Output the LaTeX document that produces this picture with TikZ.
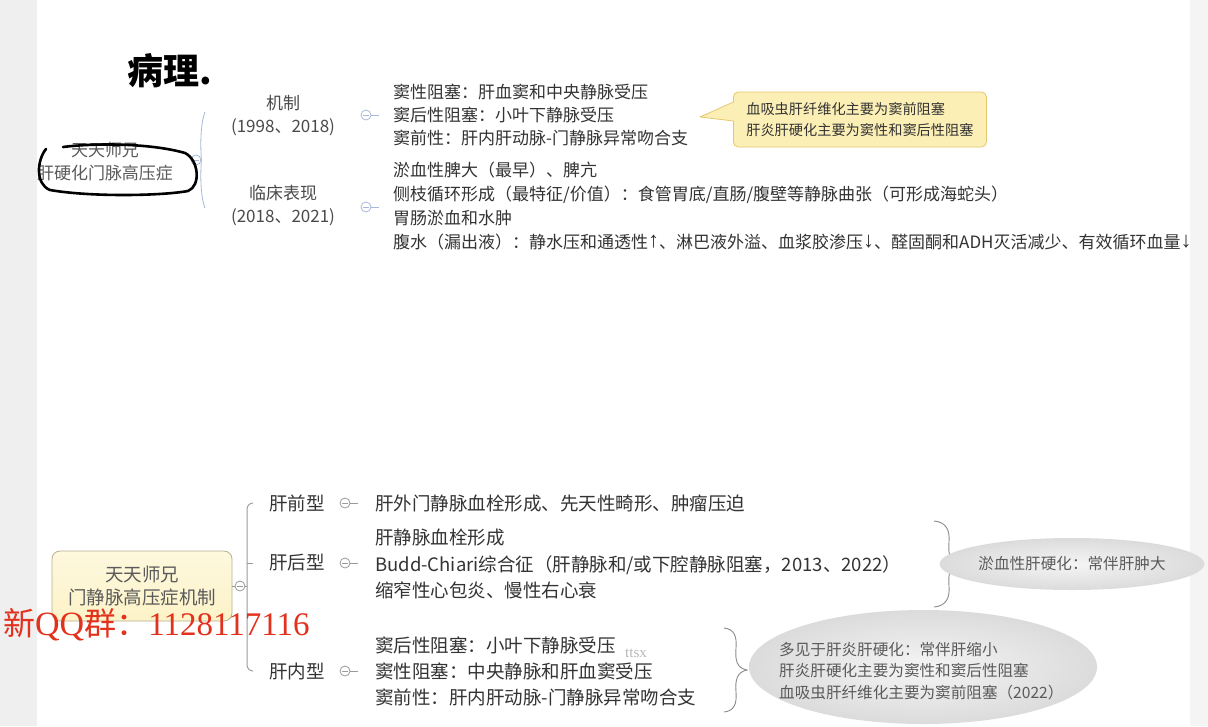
\documentclass[tikz,border=0pt]{standalone}
\usepackage{fontspec}
\newfontfamily\cjk{Noto Sans CJK SC}
\newfontfamily\wmserif{Liberation Serif}
\newfontfamily\arrowsans{Liberation Sans}
\usetikzlibrary{calc,shapes.geometric}
\definecolor{stripgray}{HTML}{EFEFEF}
\definecolor{textdark}{HTML}{333333}
\definecolor{textmid}{HTML}{4A4A4A}
\definecolor{textsoft}{HTML}{5A5A5A}
\definecolor{topblue}{HTML}{A7B8DA}
\definecolor{linegray}{HTML}{9A9A9A}
\definecolor{notefill}{HTML}{FCEFB6}
\definecolor{noteedge}{HTML}{E4C86F}
\definecolor{rootedge}{HTML}{B8AE8E}
\definecolor{wmred}{HTML}{E2311D}
\newcommand\upar{\raisebox{1.2pt}{\arrowsans\fontsize{22}{22}\selectfont ↑}}
\newcommand\downar{\raisebox{1.2pt}{\arrowsans\fontsize{22}{22}\selectfont ↓}}

\begin{document}
\begin{tikzpicture}[x=1pt, y=-1pt, font=\cjk,
  every node/.style={inner sep=0pt},
  mk/.style={circle, draw=#1, fill=white, minimum size=10pt, line width=0.8pt,
    path picture={\draw[#1, line width=0.8pt]
      ([xshift=2.4pt]path picture bounding box.west) --
      ([xshift=-2.4pt]path picture bounding box.east);}},
  toptxt/.style={anchor=west, align=left, text=textdark,
    font=\cjk\fontsize{17}{23.5}\selectfont},
  bottxt/.style={anchor=west, align=left, text=textdark,
    font=\cjk\fontsize{18.5}{26.3}\selectfont},
  brc/.style={draw=linegray!90!black, line width=0.9pt},
  bubble/.style={ellipse, shading=radial, inner color=black!4,
    outer color=black!14},
  bubtxt/.style={align=left, text=textsoft, font=\cjk\fontsize{15.6}{21.5}\selectfont}]
\useasboundingbox (0,0) rectangle (1208,726);
% ---- page background ------------------------------------------------
\fill[white] (0,0) rectangle (1208,726);
\fill[stripgray] (0,0) rectangle (37,726);
\fill[stripgray!70!white] (1190,0) rectangle (1208,726);

% ================= upper map: cirrhotic portal hypertension ==========
\node[align=center, text=textsoft, font=\cjk\fontsize{17}{23}\selectfont]
  (root1) at (105,161.5) {天天师兄\\肝硬化门脉高压症};
\node[mk=topblue] (mkA) at (196,160) {};
% ---- two branches ---------------------------------------------------
\node[align=center, text=textmid, font=\cjk\fontsize{17}{23}\selectfont]
  (mech) at (283,116) {机制\\(1998、2018)};
\node[align=center, text=textmid, font=\cjk\fontsize{17}{23}\selectfont]
  (clin) at (283,205) {临床表现\\(2018、2021)};
\draw[topblue, line width=0.8pt] (205,112) .. controls (200,125) and (200.5,148) .. (mkA.east)
  .. controls (200.5,172) and (200,195) .. (205,208);
\node[mk=topblue] (mkmech) at (366,115) {};
\node[mk=topblue] (mkclin) at (366,207) {};
\draw[topblue, line width=0.8pt] (mkmech.east) -- ++(8,0);
\draw[topblue, line width=0.8pt] (mkclin.east) -- ++(8,0);
% ---- details --------------------------------------------------------
\node[toptxt, font=\cjk\fontsize{17}{23}\selectfont] (mechtxt) at (393,115)
  {窦性阻塞：肝血窦和中央静脉受压\\窦后性阻塞：小叶下静脉受压\\窦前性：肝内肝动脉-门静脉异常吻合支};
\node[toptxt, font=\cjk\fontsize{17}{24}\selectfont] (clintxt) at (393,206)
  {淤血性脾大（最早）、脾亢\\
   侧枝循环形成（最特征/价值）：食管胃底/直肠/腹壁等静脉曲张（可形成海蛇头）\\
   胃肠淤血和水肿\\
   腹水（漏出液）：静水压和通透性\upar、淋巴液外溢、血浆胶渗压\downar、醛固酮和ADH灭活减少、有效循环血量\downar};
% ---- callout --------------------------------------------------------
\node[anchor=west, fill=notefill, draw=noteedge, line width=0.8pt, rounded corners=5pt,
      minimum width=253pt, minimum height=55pt, inner xsep=12pt, align=left,
      text=textdark, font=\cjk\fontsize{14.2}{21.5}\selectfont]
  (note) at (733,119.5) {血吸虫肝纤维化主要为窦前阻塞\\肝炎肝硬化主要为窦性和窦后性阻塞};
\coordinate (tip) at (700,117);
\fill[notefill] (tip) -- ($(note.west)+(1.5,-17.5)$) -- ($(note.west)+(1.5,1.5)$) -- cycle;
\draw[noteedge, line width=0.8pt, line join=round]
  ($(note.west)+(0.4,-17.5)$) -- (tip) -- ($(note.west)+(0.4,1.5)$);
% ---- hand annotations -----------------------------------------------
\node[anchor=west, text=black, font=\cjk\bfseries\fontsize{36}{36}\selectfont]
  (hw) at (127,71) {病理.};
\draw[black, line width=2.6pt, line cap=round, line join=round]
  (46,149) .. controls (37,160) and (35,184) .. (50,190)
  .. controls (90,197) and (160,196) .. (188,191)
  .. controls (201,186) and (199,160) .. (185,153)
  .. controls (150,143) and (95,143) .. (63,147);

% ================= lower map: mechanism of portal hypertension =======
\node[align=center, text=textsoft, font=\cjk\fontsize{18.5}{23}\selectfont,
      draw=rootedge, line width=0.8pt, rounded corners=8pt,
      top color=white!55!notefill, bottom color=white!25!notefill,
      minimum width=180pt, minimum height=70pt]
  (root2) at (142,586) {天天师兄\\门静脉高压症机制};
\node[mk=linegray] (mkB) at (240,586) {};
\draw[linegray, line width=0.8pt] (root2.east) -- (mkB.west);
% ---- three branches -------------------------------------------------
\node[text=textdark, font=\cjk\fontsize{18.5}{23}\selectfont] (pre)   at (297,503) {肝前型};
\node[text=textdark, font=\cjk\fontsize{18.5}{23}\selectfont] (post)  at (297,563) {肝后型};
\node[text=textdark, font=\cjk\fontsize{18.5}{23}\selectfont] (intra) at (297,671) {肝内型};
\draw[linegray, line width=0.9pt, rounded corners=6pt]
  ($(pre.west)+(-16,0)$) -- ($(pre.west)+(-22,0)$) -- ($(intra.west)+(-22,0)$)
  -- ($(intra.west)+(-16,0)$);
\draw[linegray, line width=0.9pt] ($(post.west)+(-22,0)$) -- ($(post.west)+(-16,0)$);
\draw[linegray, line width=0.9pt] (mkB.east) -- (247,586);
\node[mk=linegray] (mkpre)   at (345,503) {};
\node[mk=linegray] (mkpost)  at (345,563) {};
\node[mk=linegray] (mkintra) at (345,671) {};
\foreach \m in {mkpre,mkpost,mkintra}
  \draw[linegray, line width=0.9pt] (\m.east) -- ++(8,0);
% ---- details --------------------------------------------------------
\node[bottxt] (pretxt) at (375,503) {肝外门静脉血栓形成、先天性畸形、肿瘤压迫};
\node[bottxt] (posttxt) at (375,564)
  {肝静脉血栓形成\\Budd-Chiari综合征（肝静脉和/或下腔静脉阻塞，2013、2022）\\缩窄性心包炎、慢性右心衰};
\node[bottxt, font=\cjk\fontsize{18.5}{26}\selectfont] (intratxt) at (375,671)
  {窦后性阻塞：小叶下静脉受压\\窦性阻塞：中央静脉和肝血窦受压\\窦前性：肝内肝动脉-门静脉异常吻合支};
% ---- braces and summary bubbles -------------------------------------
\draw[brc] (934,521) .. controls (946,522) and (950,530) .. (949,542)
  .. controls (948,555) and (950,562) .. (960,564)
  .. controls (950,566) and (948,573) .. (949,586)
  .. controls (950,598) and (946,606) .. (934,607);
\draw[brc] (724,628) .. controls (734,629) and (737,636) .. (736,648)
  .. controls (735,661) and (737,668) .. (747,670)
  .. controls (737,672) and (735,680) .. (736,692)
  .. controls (737,704) and (734,711) .. (724,712);
\node[bubble, minimum width=220pt, minimum height=52pt, bubtxt] (bub1) at (1072,564)
  {淤血性肝硬化：常伴肝肿大};
\node[bubble, minimum width=348pt, minimum height=114pt] (bub2) at (923,667) {};
\node[bubtxt, anchor=west] (bub2txt) at (779,671)
  {多见于肝炎肝硬化：常伴肝缩小\\肝炎肝硬化主要为窦性和窦后性阻塞\\血吸虫肝纤维化主要为窦前阻塞（2022）};
% ---- overlays -------------------------------------------------------
\node[text=gray!55, font=\wmserif\fontsize{15}{15}\selectfont] (ttsx) at (636,653) {ttsx};
\node[anchor=west, text=wmred] (wm) at (3,625)
  {{\cjk\fontsize{32}{32}\selectfont 新}{\wmserif\fontsize{34}{34}\selectfont QQ}{\cjk\fontsize{32}{32}\selectfont 群：}{\wmserif\fontsize{33}{33}\selectfont 1128117116}};
\end{tikzpicture}
\end{document}
